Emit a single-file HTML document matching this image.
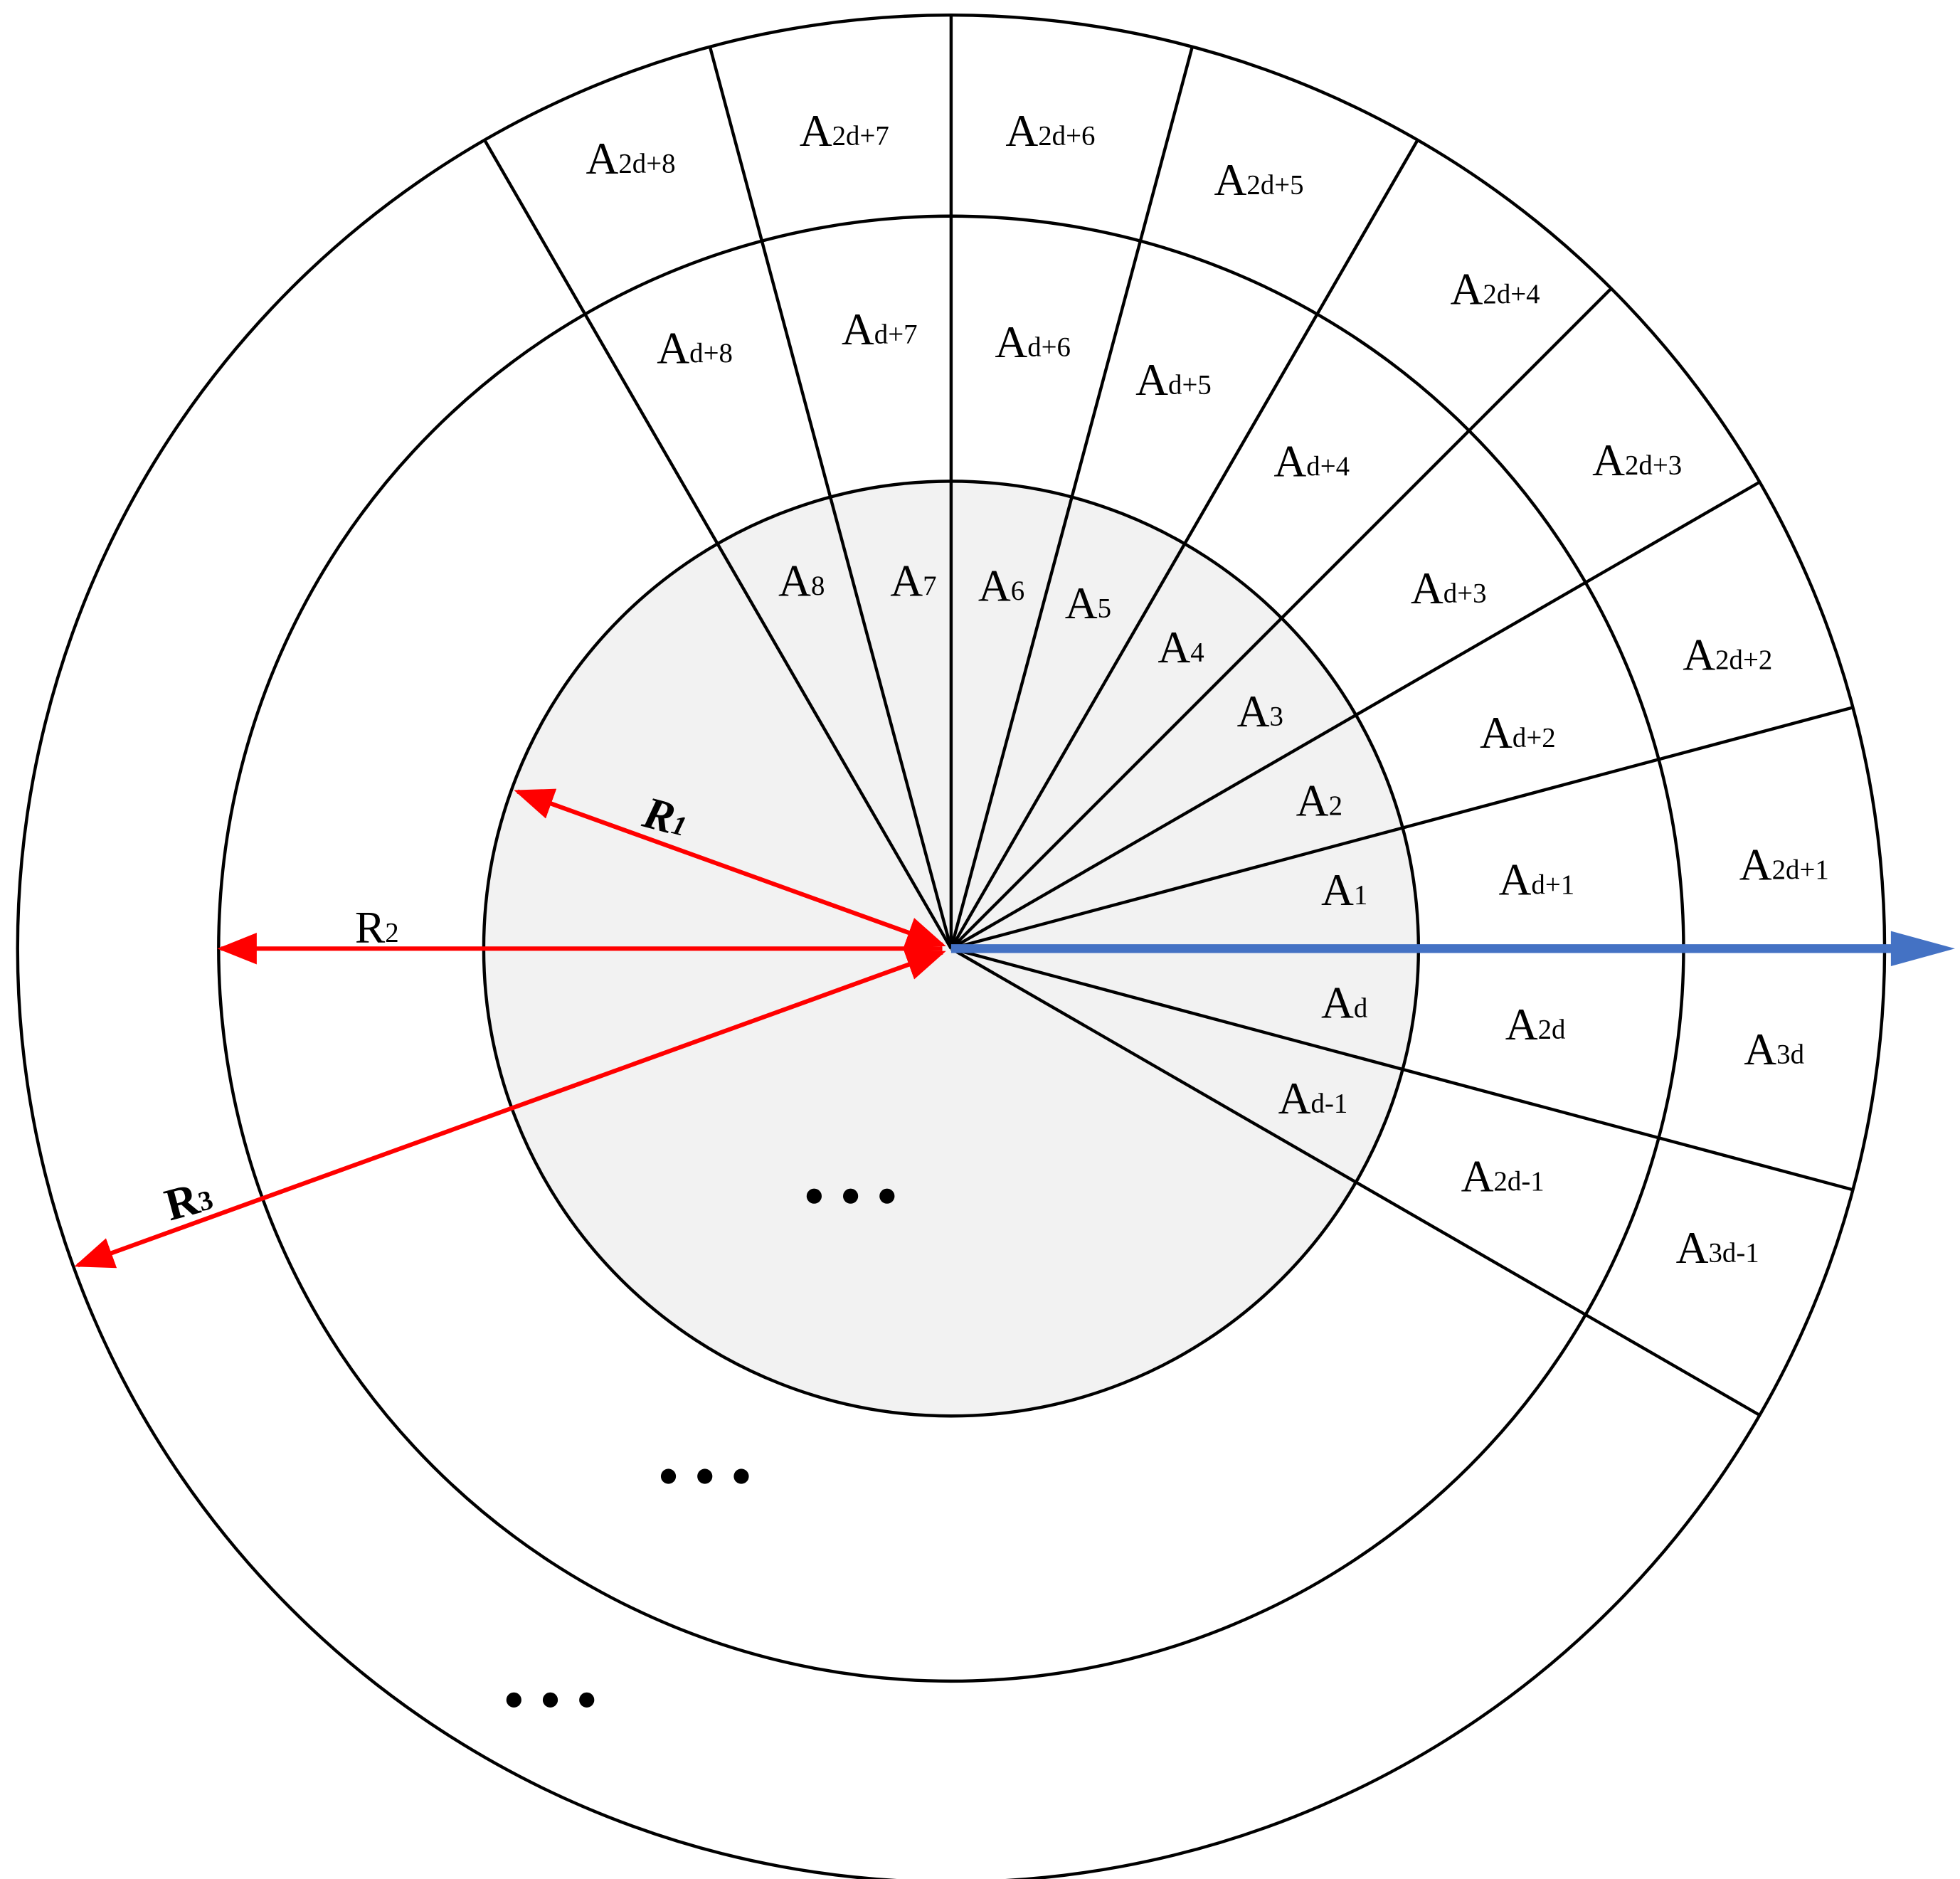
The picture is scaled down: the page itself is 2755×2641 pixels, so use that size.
<!DOCTYPE html>
<html><head><meta charset="utf-8"><style>html,body{margin:0;padding:0;background:#fff}svg{display:block}</style></head>
<body>
<svg width="2755" height="2641" viewBox="0 0 1560 1495.5" preserveAspectRatio="none" xmlns="http://www.w3.org/2000/svg">
<defs>
<marker id="rh" viewBox="0 0 10 10" refX="9" refY="5" markerWidth="9" markerHeight="9" markerUnits="strokeWidth" orient="auto-start-reverse"><path d="M0,1 L10,5 L0,9 z" fill="#ff0000"/></marker>
</defs>
<g fill="none" stroke="#000" stroke-width="2.5">
<circle cx="757" cy="755" r="743" fill="#fff"/>
<circle cx="757" cy="755" r="583"/>
<circle cx="757" cy="755" r="372" fill="#f2f2f2"/>
</g>
<g stroke="#000" stroke-width="2.5">
<line x1="757" y1="755" x2="1475" y2="563"/>
<line x1="757" y1="755" x2="1400" y2="384"/>
<line x1="757" y1="755" x2="1282" y2="230"/>
<line x1="757" y1="755" x2="1128" y2="112"/>
<line x1="757" y1="755" x2="949" y2="37"/>
<line x1="757" y1="755" x2="757" y2="12"/>
<line x1="757" y1="755" x2="565" y2="37"/>
<line x1="757" y1="755" x2="386" y2="112"/>
<line x1="757" y1="755" x2="1475" y2="947"/>
<line x1="757" y1="755" x2="1400" y2="1126"/>
</g>
<line x1="757" y1="755" x2="1510" y2="755" stroke="#4472c4" stroke-width="7"/>
<path d="M1505,741 L1556,755 L1505,769 z" fill="#4472c4"/>
<g stroke="#ff0000" stroke-width="3.5" fill="none">
<line x1="750" y1="752" x2="412" y2="630" marker-start="url(#rh)" marker-end="url(#rh)"/>
<line x1="750" y1="755" x2="176" y2="755" marker-end="url(#rh)"/>
<line x1="750" y1="758" x2="62" y2="1007" marker-start="url(#rh)" marker-end="url(#rh)"/>
</g>
<g font-family="Liberation Serif, serif" font-size="36" fill="#000" text-anchor="middle" dominant-baseline="central">
<text x="638" y="462">A<tspan font-size="22" dy="4">8</tspan></text>
<text x="727" y="462">A<tspan font-size="22" dy="4">7</tspan></text>
<text x="797" y="466">A<tspan font-size="22" dy="4">6</tspan></text>
<text x="866" y="480">A<tspan font-size="22" dy="4">5</tspan></text>
<text x="940" y="515">A<tspan font-size="22" dy="4">4</tspan></text>
<text x="1003" y="566">A<tspan font-size="22" dy="4">3</tspan></text>
<text x="1050" y="637">A<tspan font-size="22" dy="4">2</tspan></text>
<text x="1070" y="708">A<tspan font-size="22" dy="4">1</tspan></text>
<text x="1070" y="798">A<tspan font-size="22" dy="4">d</tspan></text>
<text x="1045" y="874">A<tspan font-size="22" dy="4">d-1</tspan></text>
<text x="553" y="277">A<tspan font-size="22" dy="4">d+8</tspan></text>
<text x="700" y="262">A<tspan font-size="22" dy="4">d+7</tspan></text>
<text x="822" y="272">A<tspan font-size="22" dy="4">d+6</tspan></text>
<text x="934" y="302">A<tspan font-size="22" dy="4">d+5</tspan></text>
<text x="1044" y="367">A<tspan font-size="22" dy="4">d+4</tspan></text>
<text x="1153" y="468">A<tspan font-size="22" dy="4">d+3</tspan></text>
<text x="1208" y="583">A<tspan font-size="22" dy="4">d+2</tspan></text>
<text x="1223" y="700">A<tspan font-size="22" dy="4">d+1</tspan></text>
<text x="1222" y="815">A<tspan font-size="22" dy="4">2d</tspan></text>
<text x="1196" y="936">A<tspan font-size="22" dy="4">2d-1</tspan></text>
<text x="502" y="126">A<tspan font-size="22" dy="4">2d+8</tspan></text>
<text x="672" y="104">A<tspan font-size="22" dy="4">2d+7</tspan></text>
<text x="836" y="104">A<tspan font-size="22" dy="4">2d+6</tspan></text>
<text x="1002" y="143">A<tspan font-size="22" dy="4">2d+5</tspan></text>
<text x="1190" y="230">A<tspan font-size="22" dy="4">2d+4</tspan></text>
<text x="1303" y="366">A<tspan font-size="22" dy="4">2d+3</tspan></text>
<text x="1375" y="521">A<tspan font-size="22" dy="4">2d+2</tspan></text>
<text x="1420" y="688">A<tspan font-size="22" dy="4">2d+1</tspan></text>
<text x="1412" y="835">A<tspan font-size="22" dy="4">3d</tspan></text>
<text x="1367" y="993">A<tspan font-size="22" dy="4">3d-1</tspan></text>
<text x="530" y="650" font-style="italic" font-weight="bold" transform="rotate(15 530 650)">R<tspan font-size="22" dy="4">1</tspan></text>
<text x="300" y="738">R<tspan font-size="22" dy="4">2</tspan></text>
<text x="150" y="955" font-weight="bold" transform="rotate(-15 150 955)">R<tspan font-size="22" dy="4">3</tspan></text>
</g>
<g fill="#000">
<circle cx="648" cy="952" r="6"/><circle cx="677" cy="952" r="6"/><circle cx="706" cy="952" r="6"/>
<circle cx="532" cy="1175" r="6"/><circle cx="561" cy="1175" r="6"/><circle cx="590" cy="1175" r="6"/>
<circle cx="409" cy="1353" r="6"/><circle cx="438" cy="1353" r="6"/><circle cx="467" cy="1353" r="6"/>
</g>
</svg>
</body></html>
